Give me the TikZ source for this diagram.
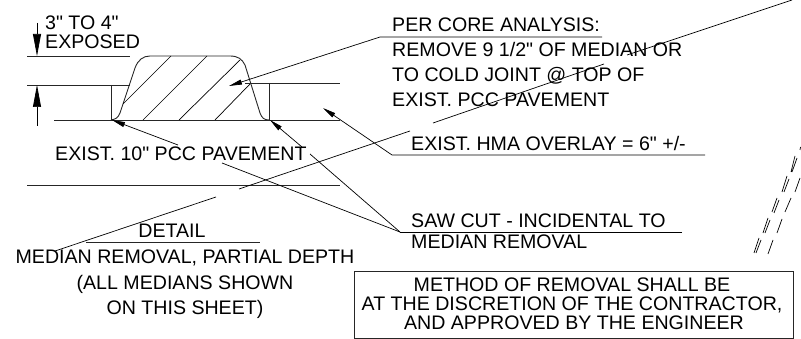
\documentclass[tikz,border=0pt]{standalone}
\usepackage{fontspec}
\newfontfamily\cadfont{Liberation Sans}
\usetikzlibrary{arrows.meta}
\tikzset{
  x=1pt,y=-1pt,
  ln/.style={line width=0.9pt,black!85},
  thn/.style={line width=0.7pt,black},
  lead/.style={thn,-{Triangle[length=13pt,width=5pt]}},
  dimen/.style={thn,-{Triangle[length=22pt,width=8pt]}},
  lbl/.style={inner sep=0pt,anchor=base west,font=\cadfont\fontsize{19.6}{19.6}\selectfont,black},
  ctr/.style={inner sep=0pt,anchor=base,font=\cadfont\fontsize{19.6}{19.6}\selectfont,black},
}
\begin{document}
\begin{tikzpicture}
\useasboundingbox (0,0) rectangle (801,339);
\fill[white] (0,0) rectangle (801,339);
% coordinates
\coordinate (t1) at (229,86);
\coordinate (k1) at (380,37);
\coordinate (e1) at (602,37);
\coordinate (t2) at (323,108);
\coordinate (k2) at (392,155);
\coordinate (e2) at (705,155);
\coordinate (sl) at (112,120);
\coordinate (sr) at (270,120);
\coordinate (k3) at (400,232);
\coordinate (e3) at (682,232);
% base lines
\draw[ln] (27,56)--(130,56);
\draw[ln] (27,85)--(130,85);
\draw[ln] (245,83)--(340,83);
\draw[ln] (54,120)--(340,120);
\draw[ln] (27,185)--(340,185);
\draw[ln] (111,85)--(111,120);
\draw[ln] (269,83)--(269,120);
% median
\draw[ln] (111,120) .. controls (116,119) and (118,118) .. (120,113) -- (135,68)
  .. controls (138,60) and (143,56) .. (150,56) -- (230,56)
  .. controls (238,56) and (242,59) .. (245,65) -- (260,113)
  .. controls (262,118) and (264,120) .. (269,120);
\draw[thn] (123,104)--(171,56);
\draw[thn] (143,120)--(207,56);
\draw[thn] (179,120)--(240,60);
\draw[thn] (215,120)--(250,84);
% dimension arrows
\draw[dimen] (37,23)--(37,56);
\draw[dimen] (37,126)--(37,85);
% leaders
\draw[lead] (e1)--(k1)--(t1);
\draw[lead] (e2)--(k2)--(t2);
\draw[thn] (e3)--(k3);
\draw[lead] (178,145)--(sl);
\draw[thn] (222,163)--(k3);
\draw[lead] (302,147)--(sr);
\draw[thn] (310,154)--(k3);
% long dashed line
\draw[thn] (792,0)--(627,55);
\draw[thn] (604,64)--(433,123);
\draw[thn] (410,131)--(239,189);
\draw[thn] (216,197)--(55,251);
% far-right dashes
\draw[thn] (800.5,147)--(800,150);
\draw[thn] (795,156)--(791,172) (797,158)--(792,172);
\draw[thn] (787,176)--(782,192) (789,179)--(784,192) (800,178)--(795,192);
\draw[thn] (777,198)--(772,212) (779,200)--(774,213) (791,198)--(785,212);
\draw[thn] (768,218)--(763,233) (770,220)--(765,233) (782,219)--(777,233);
\draw[thn] (759,238)--(754,253) (761,240)--(756,253) (773,240)--(768,254);
% texts
\node[lbl] (a1) at (45,30) {3" TO 4"};
\node[lbl] (a2) at (45,49) {EXPOSED};
\node[lbl] (b1) at (392,32) {PER CORE ANALYSIS:};
\node[lbl] (b2) at (392,57) {REMOVE 9 1/2" OF MEDIAN OR};
\node[lbl] (b3) at (392,82) {TO COLD JOINT @ TOP OF};
\node[lbl] (b4) at (392,107) {EXIST. PCC PAVEMENT};
\node[lbl] (c1) at (411,151) {EXIST. HMA OVERLAY = 6" +/-};
\node[lbl] (d1) at (55,161) {EXIST. 10" PCC PAVEMENT};
\node[lbl] (f1) at (411,228) {SAW CUT - INCIDENTAL TO};
\node[lbl] (f2) at (411,249) {MEDIAN REMOVAL};
\node[ctr] (g1) at (172,238) {DETAIL};
\draw[ln] (86,242)--(260,242);
\node[ctr] (g2) at (185,264) {MEDIAN REMOVAL, PARTIAL DEPTH};
\node[ctr] (g3) at (185,290) {(ALL MEDIANS SHOWN};
\node[ctr] (g4) at (185,314) {ON THIS SHEET)};
\draw[ln] (354,271) rectangle (793,338);
\node[ctr] (h1) at (572,291) {METHOD OF REMOVAL SHALL BE};
\node[ctr] (h2) at (572,310) {AT THE DISCRETION OF THE CONTRACTOR,};
\node[ctr] (h3) at (574,330) {AND APPROVED BY THE ENGINEER};
\end{tikzpicture}
\end{document}
